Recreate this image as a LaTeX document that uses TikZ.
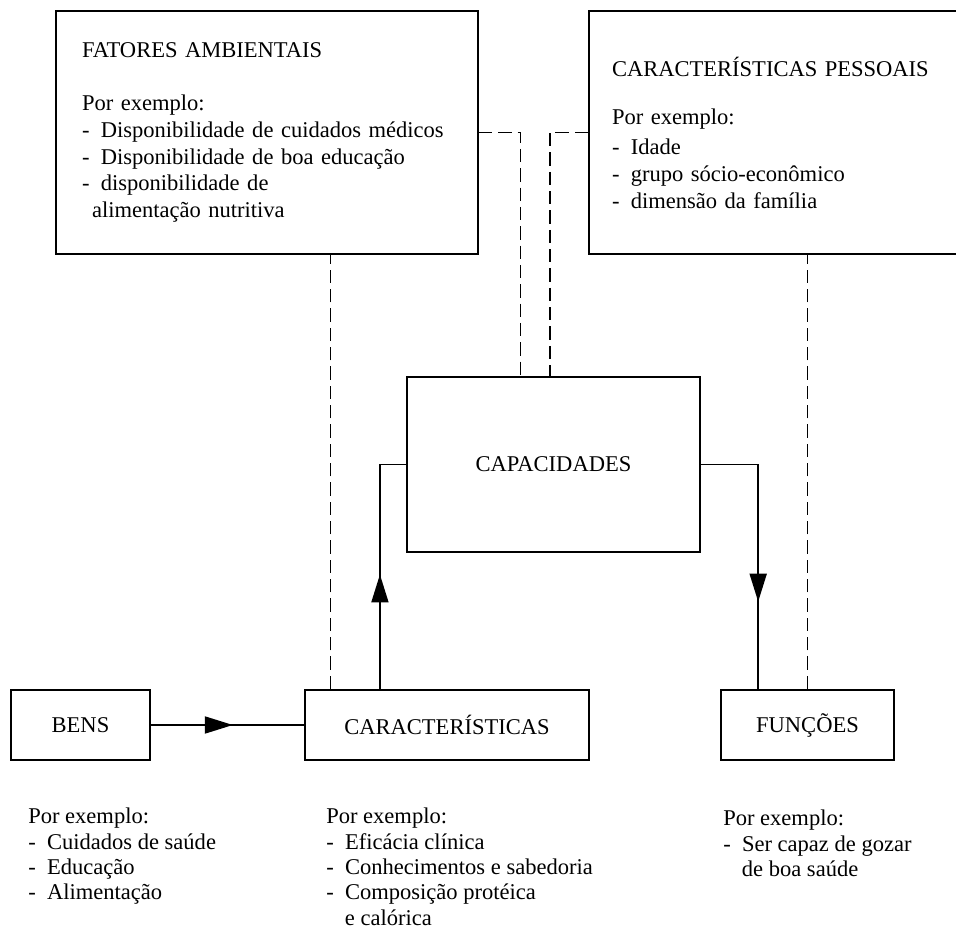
\documentclass[tikz,border=0pt]{standalone}
\usepackage{fontspec}
\setmainfont{Liberation Serif}
\usetikzlibrary{arrows.meta, decorations.markings}

\begin{document}
\begin{tikzpicture}[x=0.75pt,y=-0.75pt,
		font=\fontsize{16.9pt}{20pt}\selectfont,
		box/.style={draw, line width=1.6pt, inner sep=0pt, align=center},
		note/.style={anchor=north west, inner sep=0pt, align=left, font=\fontsize{16.9pt}{19pt}\selectfont},
		conn/.style={line width=1.4pt},
		dashline/.style={line width=1.2pt, dash pattern=on 10pt off 4.5pt},
		midarrow/.style={postaction={decorate}, decoration={markings,
			mark=at position #1 with {\arrow{Triangle[length=21pt,width=12.75pt]}}}}]
	\useasboundingbox (0,0) rectangle (956,930);
	% upper boxes
	\node[box, align=left, inner xsep=19.5pt, text width=277.5pt, minimum height=182.25pt] (fatores) at (267,132.5)
		{FATORES AMBIENTAIS\\[20pt]
		Por exemplo:\\
		-\enspace Disponibilidade de cuidados médicos\\
		-\enspace Disponibilidade de boa educação\\
		-\enspace disponibilidade de\\
		\hspace*{7.5pt}alimentação nutritiva};
	\node[box, align=left, inner xsep=17.25pt, text width=280.5pt, minimum height=182.25pt] (pessoais) at (799,132.5)
		{CARACTERÍSTICAS PESSOAIS\\[16pt]
		Por exemplo:\\[3pt]
		-\enspace Idade\\
		-\enspace grupo sócio-econômico\\
		-\enspace dimensão da família};
	\node[box, minimum width=219.75pt, minimum height=131.25pt] (capac) at (553.5,464.5) {CAPACIDADES};
	% lower boxes
	\node[box, minimum width=104.25pt, minimum height=52.5pt] (bens) at (80.5,725) {BENS};
	\node[box, minimum width=213pt, minimum height=52.5pt] (caract) at (447,725) {CARACTERÍSTICAS};
	\node[box, minimum width=129.75pt, minimum height=52.5pt] (funcoes) at (807.5,725) {FUNÇÕES};
	% solid flows
	\draw[conn, midarrow=0.535] (bens) -- (caract);
	\draw[conn, midarrow=0.457] ([xshift=57pt]caract.north west) |- (capac.west);
	\draw[conn, midarrow=0.69] (capac.east) -| ([xshift=-37pt]funcoes.north);
	% dashed influences
	\draw[dashline] (fatores.east) -| ([xshift=86pt]capac.north west);
	\draw[dashline] (pessoais.west) -| ([xshift=108pt]capac.north west);
	\draw[dashline] ([xshift=20pt]caract.north west) -- ([xshift=20pt]caract.north west |- fatores.south);
	\draw[dashline] (funcoes.north) -- (funcoes.north |- pessoais.south);
	% examples below
	\node[note] (exbens) at (28,808)
		{Por exemplo:\\-\enspace Cuidados de saúde\\-\enspace Educação\\-\enspace Alimentação};
	\node[note] (excaract) at (326,808)
		{Por exemplo:\\-\enspace Eficácia clínica\\-\enspace Conhecimentos e sabedoria\\-\enspace Composição protéica\\\hspace*{14pt}e calórica};
	\node[note] (exfuncoes) at (723,810)
		{Por exemplo:\\-\enspace Ser capaz de gozar\\\hspace*{14pt}de boa saúde};
\end{tikzpicture}
\end{document}
